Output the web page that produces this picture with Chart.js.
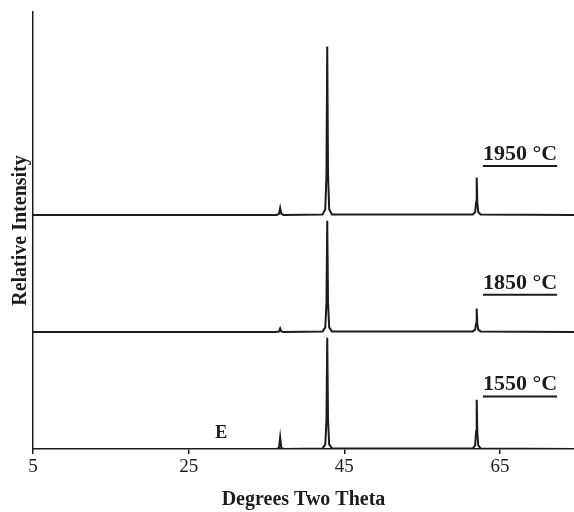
<!DOCTYPE html>
<html>
<head>
<meta charset="utf-8">
<script src="https://cdn.jsdelivr.net/npm/chart.js@4.4.1/dist/chart.umd.min.js"></script>
<style>
  html, body { margin: 0; padding: 0; background: #fff; overflow: hidden; }
  #xrd { display: block; }
</style>
</head>
<body>
<canvas id="xrd" width="574" height="512"></canvas>
<script>
// 2-theta sampling shared by all three patterns
const twoTheta = [5, 36.3, 36.6, 36.75, 36.9, 37.2, 42.2, 42.55, 42.7, 42.8, 42.9, 43.05, 43.4,
                  61.5, 61.8, 61.92, 62.0, 62.08, 62.2, 62.5, 74.5];

// intensities (relative, each pattern on its own baseline)
const int1550 = [0, 0, 0.01, 0.10, 0.01, 0, 0.005, 0.04, 0.25, 0.95, 0.25, 0.04, 0.005,
                 0.005, 0.03, 0.15, 0.42, 0.15, 0.03, 0.005, 0];
const int1850 = [0, 0, 0.005, 0.03, 0.005, 0, 0.005, 0.04, 0.25, 0.95, 0.25, 0.04, 0.005,
                 0.005, 0.02, 0.07, 0.20, 0.07, 0.02, 0.005, 0];
const int1950 = [0, 0, 0.01, 0.06, 0.01, 0, 0.005, 0.05, 0.35, 1.44, 0.35, 0.05, 0.005,
                 0.005, 0.025, 0.11, 0.32, 0.11, 0.025, 0.005, 0];

const seriesNames = ['1550 °C', '1850 °C', '1950 °C'];
const seriesValues = [int1550, int1850, int1950];
const xTicks = [5, 25, 45, 65];

const STACK_GAP = 1;
const serif = '"Liberation Serif", "Times New Roman", serif';
const ink = '#1c1c1c';

const datasets = seriesValues.map((vals, i) => ({
    label: seriesNames[i],
    data: twoTheta.map((x, j) => ({ x: x, y: vals[j] + i * STACK_GAP })),
    borderColor: ink,
    borderWidth: 2,
    pointRadius: 0,
    tension: 0,
    fill: false
}));

// temperature labels with underline, plus the "E" marker
const labelPlugin = {
    id: 'xrdLabels',
    afterDatasetsDraw(chart) {
        const { ctx, scales: { x, y } } = chart;
        ctx.save();
        ctx.fillStyle = ink;
        ctx.strokeStyle = ink;
        ctx.font = 'bold 22px ' + serif;
        ctx.textAlign = 'left';
        ctx.textBaseline = 'alphabetic';
        const rise = [0.5, 0.37, 0.47];
        seriesNames.forEach((name, i) => {
            const px = x.getPixelForValue(62.8);
            const py = y.getPixelForValue(rise[i] + i * STACK_GAP);
            ctx.fillText(name, px, py);
            const w = ctx.measureText(name).width;
            ctx.lineWidth = 2;
            ctx.beginPath();
            ctx.moveTo(px, py + 6);
            ctx.lineTo(px + w, py + 6);
            ctx.stroke();
        });
        ctx.font = 'bold 18px ' + serif;
        ctx.textAlign = 'center';
        ctx.textBaseline = 'middle';
        ctx.fillText('E', x.getPixelForValue(29.2), y.getPixelForValue(0.137));
        ctx.restore();
    }
};

new Chart(document.getElementById('xrd'), {
    type: 'line',
    data: { datasets: datasets },
    options: {
        responsive: false,
        animation: false,
        layout: { padding: { left: 0, top: 12, right: 0, bottom: 0 } },
        plugins: { legend: { display: false }, tooltip: { enabled: false } },
        scales: {
            x: {
                type: 'linear',
                min: 5,
                max: 74.5,
                afterBuildTicks: s => { s.ticks = xTicks.map(v => ({ value: v })); },
                afterFit: s => { s.height = 63; },
                grid: { display: true, drawOnChartArea: false, drawTicks: true, tickLength: 5, color: ink, lineWidth: 1.5 },
                border: { display: true, color: ink, width: 1.5 },
                ticks: { color: ink, font: { family: serif, size: 19 }, padding: 2, maxRotation: 0 },
                title: {
                    display: true,
                    text: 'Degrees Two Theta',
                    color: ink,
                    font: { family: serif, size: 20, weight: 'bold' },
                    padding: { top: 0, bottom: 0 }
                }
            },
            y: {
                min: 0,
                max: 3.735,
                afterFit: s => { s.width = 33; },
                grid: { display: false },
                border: { display: true, color: ink, width: 1.5 },
                ticks: { display: false },
                title: {
                    display: true,
                    text: 'Relative Intensity',
                    color: ink,
                    font: { family: serif, size: 20, weight: 'bold' },
                    padding: { top: 9, bottom: 0 }
                }
            }
        }
    },
    plugins: [labelPlugin]
});
</script>
</body>
</html>
